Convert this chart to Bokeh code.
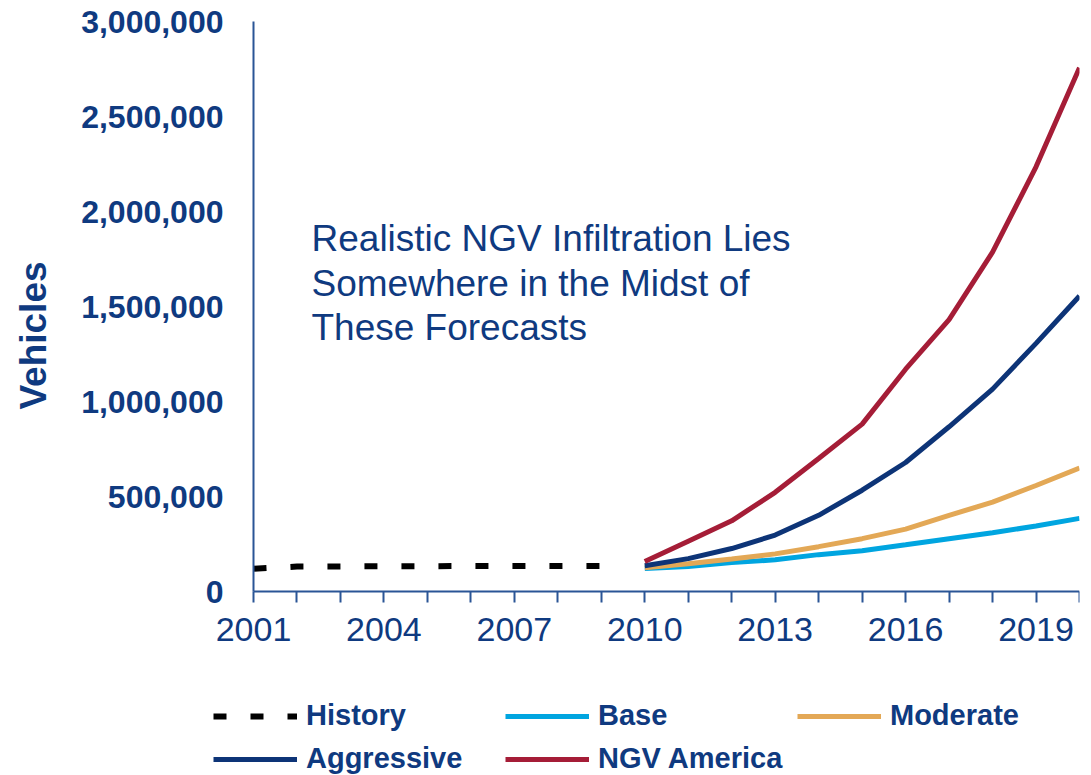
from bokeh.plotting import figure
from bokeh.models import (Range1d, FixedTicker, NumeralTickFormatter, Legend,
                          LegendItem, Label)
from bokeh.embed import file_html
from bokeh.resources import INLINE
import math

# ---- data ----
hist_years = list(range(2001, 2010))
history = [120000, 131000, 132000, 133000, 133000, 134000, 134000, 134000, 134000]

fc_years = list(range(2010, 2021))
base = [121000, 132000, 152000, 167000, 194000, 215000, 246000, 278000, 309000, 345000, 385000]
moderate = [125000, 146000, 171000, 198000, 236000, 278000, 328000, 401000, 470000, 558000, 650000]
aggressive = [136000, 173000, 226000, 297000, 401000, 533000, 679000, 867000, 1065000, 1306000, 1555000]
ngv_america = [158000, 265000, 372000, 522000, 700000, 881000, 1170000, 1431000, 1786000, 2235000, 2757000]

x_ticks = list(range(2001, 2021))
x_tick_labels = ["2001", "2004", "2007", "2010", "2013", "2016", "2019"]
y_ticks = [0, 500000, 1000000, 1500000, 2000000, 2500000, 3000000]

annotation = ["Realistic NGV Infiltration Lies",
              "Somewhere in the Midst of",
              "These Forecasts"]

NAVY_TXT = "#0F3A80"
AXIS = "#2A5596"
C_BASE = "#00A5E0"
C_MOD = "#E3A856"
C_AGG = "#0D3477"
C_NGV = "#A51D37"
FONT = "Liberation Sans"

# geometry (pixels): plot area from x=253..1079, y=21..591 on a 1079x775 frame
X0, X1, YEARS = 2001, 2020, 19
px_per_year = 826 / YEARS
Y_TOP = 3000000
px_per_unit = 570 / Y_TOP
x_start = X0 - 253 / px_per_year
y_end = Y_TOP + 21 / px_per_unit
y_start = -(775 - 591) / px_per_unit

p = figure(frame_width=1079, frame_height=775,
           min_border_left=0, min_border_right=9,
           min_border_top=0, min_border_bottom=0,
           x_range=Range1d(x_start, X1), y_range=Range1d(y_start, y_end),
           output_backend="svg", toolbar_location=None,
           background_fill_color="white", border_fill_color="white")
p.outline_line_color = None
p.grid.visible = False

# x axis
xa = p.xaxis[0]
xa.fixed_location = 0
xa.bounds = (X0, X1)
xa.ticker = FixedTicker(ticks=x_ticks)
xa.major_label_overrides = {y: (str(y) if str(y) in x_tick_labels else "") for y in x_ticks}
xa.axis_line_color = AXIS
xa.axis_line_width = 2
xa.major_tick_line_color = AXIS
xa.major_tick_line_width = 2
xa.major_tick_in = 0
xa.major_tick_out = 11
xa.minor_tick_line_color = None
xa.major_label_text_font = FONT
xa.major_label_text_font_size = "34px"
xa.major_label_text_color = NAVY_TXT
xa.major_label_standoff = 15

# y axis
ya = p.yaxis[0]
ya.fixed_location = X0
ya.bounds = (0, Y_TOP)
ya.ticker = FixedTicker(ticks=y_ticks)
ya.formatter = NumeralTickFormatter(format="0,0")
ya.axis_line_color = AXIS
ya.axis_line_width = 2
ya.major_tick_line_color = None
ya.major_tick_in = 0
ya.major_tick_out = 0
ya.minor_tick_line_color = None
ya.major_label_text_font = FONT
ya.major_label_text_font_size = "32px"
ya.major_label_text_font_style = "bold"
ya.major_label_text_color = NAVY_TXT
ya.major_label_standoff = 30

# lines
r_hist = p.line(hist_years, history, line_color="black", line_width=6, line_dash="13 24")
r_base = p.line(fc_years, base, line_color=C_BASE, line_width=5)
r_mod = p.line(fc_years, moderate, line_color=C_MOD, line_width=5)
r_agg = p.line(fc_years, aggressive, line_color=C_AGG, line_width=5)
r_ngv = p.line(fc_years, ngv_america, line_color=C_NGV, line_width=5)

# annotation text (screen units from frame bottom-left)
for i, line in enumerate(annotation):
    p.add_layout(Label(x=311, y=537 - i * 44.5, x_units="screen", y_units="screen",
                       text=line, text_font=FONT, text_font_size="37px",
                       text_color=NAVY_TXT, text_baseline="alphabetic"))

# y axis title
p.add_layout(Label(x=33, y=440, x_units="screen", y_units="screen",
                   text="Vehicles", angle=math.pi / 2, text_font=FONT,
                   text_font_size="37px", text_font_style="bold",
                   text_color=NAVY_TXT, text_align="center", text_baseline="middle"))

legend = Legend(items=[
    LegendItem(label="History", renderers=[r_hist]),
    LegendItem(label="Base", renderers=[r_base]),
    LegendItem(label="Moderate", renderers=[r_mod]),
    LegendItem(label="Aggressive", renderers=[r_agg]),
    LegendItem(label="NGV America", renderers=[r_ngv]),
], orientation="horizontal", ncols=3, location=(213, 0))
legend.padding = 0
legend.margin = 0
legend.spacing = 10
legend.glyph_width = 84
legend.glyph_height = 32
legend.label_height = 32
legend.label_width = 189
legend.label_standoff = 9
legend.label_text_font = FONT
legend.label_text_font_size = "29px"
legend.label_text_font_style = "bold"
legend.label_text_color = NAVY_TXT
legend.border_line_color = None
legend.background_fill_alpha = 0
p.add_layout(legend)

open("out.html", "w").write(file_html(p, INLINE))
